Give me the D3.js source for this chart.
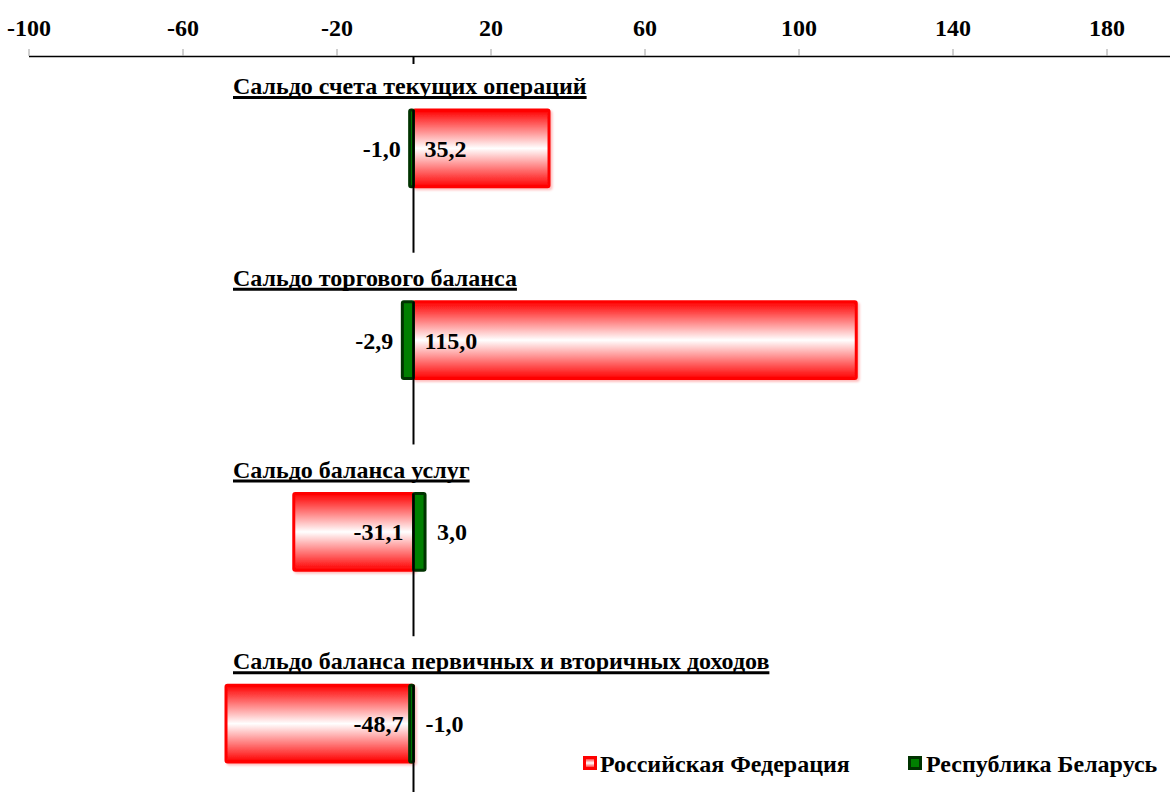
<!DOCTYPE html>
<html>
<head>
<meta charset="utf-8">
<script src="https://cdn.jsdelivr.net/npm/d3@7"></script>
<style>
  html, body { margin: 0; padding: 0; background: #fff; }
  svg { display: block; }
  text { font-family: "Liberation Serif", "Times New Roman", serif; font-weight: bold; fill: #000; }
</style>
</head>
<body>
<svg id="chart" width="1170" height="792"></svg>
<script>
// Balance-of-payments items, billions of US dollars
const categories = [
  "Сальдо счета текущих операций",
  "Сальдо торгового баланса",
  "Сальдо баланса услуг",
  "Сальдо баланса первичных и вторичных доходов"
];
const russiaValues = [35.2, 115.0, -31.1, -48.7];
const belarusValues = [-1.0, -2.9, 3.0, -1.0];
const seriesNames = ["Российская Федерация", "Республика Беларусь"];
const tickValues = [-100, -60, -20, 20, 60, 100, 140, 180];

const W = 1170, H = 792;
const FS = 24;
const svg = d3.select("#chart");
const fmt = v => v.toFixed(1).replace(".", ",");

const x = d3.scaleLinear().domain([-100, 200]).range([28.5, 1183.5]);
const y = d3.scaleBand().domain(categories).range([110, 762]).paddingInner(0.6).paddingOuter(0);
const x0 = x(0);
const axisY = 56;

// gradients
const defs = svg.append("defs");
const rg = defs.append("linearGradient").attr("id", "redFill").attr("x1", 0).attr("y1", 0).attr("x2", 0).attr("y2", 1);
rg.append("stop").attr("offset", "0%").attr("stop-color", "#ff0000");
rg.append("stop").attr("offset", "50%").attr("stop-color", "#ffffff");
rg.append("stop").attr("offset", "100%").attr("stop-color", "#ff0000");
const sh = defs.append("filter").attr("id", "shadow").attr("x", "-5%").attr("y", "-10%").attr("width", "115%").attr("height", "130%");
sh.append("feDropShadow").attr("dx", 2).attr("dy", 2).attr("stdDeviation", 1).attr("flood-color", "#ff0000").attr("flood-opacity", 0.25);

// top value axis
const axis = d3.axisTop(x).tickValues(tickValues).tickSize(7).tickSizeOuter(0).tickPadding(13)
  .tickFormat(d => String(d));
const gAxis = svg.append("g").attr("transform", `translate(0,${axisY})`).call(axis);
gAxis.select(".domain").attr("stroke", "#000").attr("stroke-width", 1.5);
gAxis.selectAll(".tick line").attr("stroke", "#a0a0a0");
gAxis.selectAll(".tick text").attr("font-size", FS).attr("fill", "#000")
  .style("font-family", '"Liberation Serif", "Times New Roman", serif').style("font-weight", "bold");
svg.append("line").attr("x1", x0).attr("x2", x0).attr("y1", axisY).attr("y2", axisY + 8)
  .attr("stroke", "#000").attr("stroke-width", 2);

// category titles with underline
categories.forEach(c => {
  const t = svg.append("text").attr("x", 233).attr("y", y(c) - 16).attr("font-size", FS).text(c);
  const len = t.node().getComputedTextLength();
  svg.append("line").attr("x1", 233).attr("x2", 233 + len)
    .attr("y1", y(c) - 12.5).attr("y2", y(c) - 12.5).attr("stroke", "#000").attr("stroke-width", 3);
});

// Russia bars
svg.append("g").selectAll("rect").data(categories).join("rect")
  .attr("x", (c, i) => Math.min(x(russiaValues[i]), x0))
  .attr("width", (c, i) => Math.abs(x(russiaValues[i]) - x0))
  .attr("y", c => y(c))
  .attr("height", y.bandwidth())
  .attr("rx", 1.5)
  .attr("fill", "url(#redFill)")
  .attr("stroke", "#ff0000").attr("stroke-width", 3)
  .attr("filter", "url(#shadow)");

// Belarus bars
svg.append("g").selectAll("rect").data(categories).join("rect")
  .attr("x", (c, i) => Math.min(x(belarusValues[i]), x0))
  .attr("width", (c, i) => Math.abs(x(belarusValues[i]) - x0))
  .attr("y", c => y(c))
  .attr("height", y.bandwidth())
  .attr("rx", 1.5)
  .attr("fill", "#008000")
  .attr("stroke", "#003300").attr("stroke-width", 3);

// zero reference line under each group
svg.append("g").selectAll("line").data(categories).join("line")
  .attr("x1", x0).attr("x2", x0)
  .attr("y1", c => y(c))
  .attr("y2", c => Math.min(y(c) + y.bandwidth() + 66, H))
  .attr("stroke", "#000").attr("stroke-width", 2);

// value labels
const labels = svg.append("g").attr("font-size", FS);
categories.forEach((c, i) => {
  const cy = y(c) + y.bandwidth() / 2;
  const r = russiaValues[i], b = belarusValues[i];
  labels.append("text")
    .attr("x", r >= 0 ? x0 + 11 : x0 - 10)
    .attr("y", cy).attr("dy", "0.35em")
    .attr("text-anchor", r >= 0 ? "start" : "end")
    .text(fmt(r));
  const left = r >= 0;
  labels.append("text")
    .attr("x", left ? Math.min(x(b), x0) - 9 : Math.max(x(b), x0) + 12)
    .attr("y", cy).attr("dy", "0.35em")
    .attr("text-anchor", left ? "end" : "start")
    .text(fmt(b));
});

// legend
const legend = svg.append("g").attr("font-size", FS);
const legendX = [583, 908];
legend.append("rect").attr("x", legendX[0] + 1.5).attr("y", 757.5).attr("width", 11).attr("height", 11)
  .attr("fill", "url(#redFill)").attr("stroke", "#ff0000").attr("stroke-width", 3);
legend.append("rect").attr("x", legendX[1] + 1.5).attr("y", 757.5).attr("width", 11).attr("height", 11)
  .attr("fill", "#008000").attr("stroke", "#003300").attr("stroke-width", 3);
legend.append("text").attr("x", legendX[0] + 17).attr("y", 772).text(seriesNames[0]);
legend.append("text").attr("x", legendX[1] + 18).attr("y", 772).text(seriesNames[1]);
</script>
</body>
</html>
